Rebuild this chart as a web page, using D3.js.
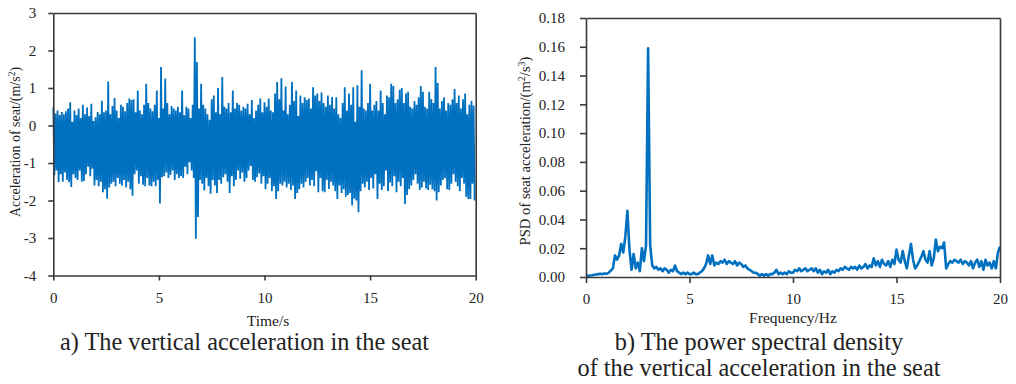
<!DOCTYPE html>
<html>
<head>
<meta charset="utf-8">
<script src="https://cdn.jsdelivr.net/npm/d3@7"></script>
<style>
  html, body { margin: 0; padding: 0; background: #fff; }
  svg { display: block; }
  text { font-family: "Liberation Serif", "Times New Roman", serif; fill: #222; }
</style>
</head>
<body>
<svg id="chart" width="1016" height="384"></svg>
<script>
// ---------------- DATA ----------------
// (a) seat vertical acceleration, m/s^2 : alternating local maxima / minima, 0.05 s apart
const sampleStep = 0.05;
const accelHigh = [
  0.49, 0.32, 0.40, 0.28, 0.36, 0.30, 0.38, 0.45, 0.62, 0.10,
  0.40, 0.28, 0.45, 0.20, 0.55, 0.30, 0.48, 0.25, 0.58, 0.12,
  0.22, 0.36, 0.30, 0.66, 0.35, 0.40, 1.17, 0.30, 0.52, 0.73,
  0.40, 0.20, 0.55, 0.50, 0.38, 0.60, 0.72, 0.68, 0.70, 0.35,
  0.93, 0.40, 0.30, 0.55, 1.11, 0.60, 0.45, 0.38, 0.55, 0.93,
  0.20, 1.56, 0.45, 1.25, 0.60, 0.30, 0.52, 0.45, 0.40, 0.50,
  0.35, 0.93, 0.27, 0.50, 0.45, 0.20, 0.55, 2.35, 1.69, 0.45,
  1.11, 0.55, 0.45, 0.30, 0.15, 0.70, 0.80, 0.35, 1.00, 0.30,
  1.29, 0.50, 0.45, 0.60, 0.35, 0.93, 0.45, 0.60, 0.55, 0.40,
  0.50, 0.45, 0.58, 0.30, 0.68, 0.20, 0.40, 0.55, 0.72, 0.35,
  0.62, 0.50, 0.72, 0.40, 0.35, 0.85, 1.16, 0.70, 1.26, 0.40,
  1.04, 0.30, 0.55, 1.16, 0.65, 0.93, 0.25, 0.80, 0.60, 0.75,
  0.68, 0.72, 0.45, 1.02, 0.80, 0.85, 0.65, 0.88, 0.60, 0.50,
  0.80, 0.55, 0.76, 0.45, 0.75, 0.30, 0.20, 0.60, 1.02, 0.40,
  0.85, 0.55, 1.02, 0.10, 1.07, 0.50, 1.47, 0.45, 0.40, 0.60,
  1.11, 0.40, 0.55, 0.65, 0.40, 0.93, 0.60, 0.30, 0.80, 0.75,
  1.11, 1.05, 0.60, 0.70, 0.95, 1.00, 0.60, 0.85, 0.90, 0.50,
  0.45, 0.65, 0.55, 0.75, 1.05, 0.90, 0.50, 0.45, 0.90, 0.70,
  0.60, 1.56, 1.13, 0.45, 0.65, 0.75, 0.40, 0.60, 0.55, 0.70,
  0.97, 0.60, 0.80, 0.45, 0.70, 0.85, 0.30, 0.55, 0.65, 0.53
];
const accelLow = [
  -1.33, -1.20, -1.51, -1.30, -1.50, -1.25, -1.45, -1.51, -1.64, -1.30,
  -1.40, -1.45, -1.20, -1.50, -1.48, -1.30, -1.10, -1.35, -1.15, -1.60,
  -1.45, -1.62, -1.50, -1.78, -1.70, -1.95, -1.65, -1.55, -1.50, -1.62,
  -1.40, -1.55, -1.60, -1.45, -1.65, -1.50, -1.70, -1.87, -1.30, -1.20,
  -1.55, -1.35, -1.58, -1.62, -1.40, -1.60, -1.62, -1.50, -1.62, -1.45,
  -2.08, -1.38, -1.35, -1.25, -1.40, -1.32, -1.20, -1.45, -1.30, -1.40,
  -1.35, -1.40, -1.10, -1.30, -0.98, -1.20, -1.40, -3.02, -2.44, -1.45,
  -1.55, -1.73, -1.40, -1.62, -1.82, -1.45, -1.60, -1.80, -1.45, -1.55,
  -1.38, -1.30, -1.50, -1.80, -1.35, -1.62, -1.45, -1.20, -1.42, -1.25,
  -1.50, -1.40, -1.20, -1.08, -1.45, -1.50, -1.38, -1.28, -1.55, -1.35,
  -1.70, -1.55, -1.40, -1.75, -1.62, -1.96, -1.75, -1.55, -1.60, -1.50,
  -1.65, -1.55, -1.72, -1.60, -1.96, -1.80, -1.70, -1.55, -1.65, -1.50,
  -1.40, -1.60, -1.45, -1.62, -1.22, -1.78, -1.40, -1.75, -1.78, -1.45,
  -1.69, -1.50, -1.60, -1.75, -1.96, -1.60, -1.80, -1.70, -1.90, -1.85,
  -1.80, -2.13, -1.95, -2.00, -2.31, -1.75, -1.55, -1.65, -1.50, -1.72,
  -1.40, -1.68, -1.30, -1.96, -1.55, -1.72, -1.62, -1.20, -1.75, -1.52,
  -1.62, -1.35, -1.78, -1.50, -1.62, -1.40, -2.09, -1.85, -1.70, -1.60,
  -1.45, -1.30, -1.55, -1.72, -1.65, -1.50, -1.68, -1.72, -1.58, -1.70,
  -1.75, -2.00, -1.78, -1.60, -1.45, -1.40, -1.70, -1.72, -1.55, -1.30,
  -1.50, -1.62, -1.75, -1.40, -1.55, -1.90, -1.96, -1.96, -1.55, -2.00
];

// (b) PSD of seat acceleration, (m^2/s^3), 0.1 Hz resolution, 0..20 Hz
const freqStep = 0.1;
const psdValues = [
  0.0005, 0.0008, 0.0010, 0.0012, 0.0015, 0.0018, 0.0020, 0.0022, 0.0020, 0.0025,
  0.0022, 0.0030, 0.0045, 0.0060, 0.0150, 0.0120, 0.0150, 0.0230, 0.0170, 0.0280,
  0.0460, 0.0190, 0.0050, 0.0160, 0.0060, 0.0100, 0.0040, 0.0200, 0.0110, 0.0220,
  0.1590, 0.0220, 0.0080, 0.0060, 0.0070, 0.0050, 0.0060, 0.0040, 0.0060, 0.0050,
  0.0030, 0.0050, 0.0040, 0.0080, 0.0040, 0.0030, 0.0020, 0.0030, 0.0020, 0.0030,
  0.0020, 0.0020, 0.0030, 0.0020, 0.0020, 0.0030, 0.0040, 0.0060, 0.0090, 0.0150,
  0.0090, 0.0150, 0.0080, 0.0100, 0.0090, 0.0110, 0.0100, 0.0120, 0.0090, 0.0110,
  0.0100, 0.0090, 0.0110, 0.0080, 0.0100, 0.0090, 0.0070, 0.0080, 0.0060, 0.0050,
  0.0040, 0.0030, 0.0030, 0.0020, 0.0010, 0.0020, 0.0010, 0.0020, 0.0010, 0.0020,
  0.0020, 0.0030, 0.0050, 0.0020, 0.0030, 0.0020, 0.0030, 0.0020, 0.0040, 0.0030,
  0.0030, 0.0050, 0.0040, 0.0060, 0.0040, 0.0050, 0.0060, 0.0040, 0.0050, 0.0060,
  0.0040, 0.0060, 0.0030, 0.0050, 0.0020, 0.0040, 0.0030, 0.0050, 0.0020, 0.0040,
  0.0030, 0.0050, 0.0040, 0.0060, 0.0050, 0.0070, 0.0060, 0.0050, 0.0070, 0.0060,
  0.0070, 0.0050, 0.0080, 0.0060, 0.0070, 0.0090, 0.0060, 0.0080, 0.0070, 0.0130,
  0.0080, 0.0110, 0.0070, 0.0120, 0.0090, 0.0080, 0.0110, 0.0070, 0.0120, 0.0090,
  0.0190, 0.0120, 0.0100, 0.0180, 0.0110, 0.0060, 0.0150, 0.0230, 0.0120, 0.0060,
  0.0080, 0.0110, 0.0140, 0.0180, 0.0120, 0.0100, 0.0180, 0.0080, 0.0130, 0.0260,
  0.0180, 0.0210, 0.0200, 0.0240, 0.0060, 0.0090, 0.0110, 0.0100, 0.0120, 0.0110,
  0.0100, 0.0120, 0.0090, 0.0110, 0.0100, 0.0080, 0.0110, 0.0060, 0.0100, 0.0120,
  0.0070, 0.0110, 0.0050, 0.0120, 0.0080, 0.0100, 0.0060, 0.0110, 0.0060, 0.0170,
  0.0210
];

const timeTicks = [0, 5, 10, 15, 20];
const accelTicks = [-4, -3, -2, -1, 0, 1, 2, 3];
const freqTicks = [0, 5, 10, 15, 20];
const psdTicks = [0, 0.02, 0.04, 0.06, 0.08, 0.10, 0.12, 0.14, 0.16, 0.18];

const captionA = "a) The vertical acceleration in the seat";
const captionB = ["b) The power spectral density", "of the vertical acceleration in the seat"];

// ---------------- DRAW ----------------
const svg = d3.select("#chart");
svg.append("rect").attr("width", 1016).attr("height", 384).attr("fill", "#fff");

const lineColor = "#0070C0";
const axisColor = "#3a3a3a";
const fontFam = '"Liberation Serif", "Times New Roman", serif';

function styleAxis(g, fs) {
  g.attr("font-family", fontFam).attr("font-size", fs);
  g.selectAll("path.domain").attr("stroke", axisColor).attr("stroke-width", 1.6);
  g.selectAll(".tick line").attr("stroke", axisColor).attr("stroke-width", 1.6);
  g.selectAll(".tick text").attr("fill", "#222");
}

// ---- Chart a ----
const xA = d3.scaleLinear().domain([0, 20]).range([53.3, 475.7]);
const yA = d3.scaleLinear().domain([-4, 3]).range([275.5, 13]);

const accelSeries = [];
accelHigh.forEach((h, i) => {
  accelSeries.push({ t: (2 * i) * sampleStep, v: h });
  accelSeries.push({ t: (2 * i + 1) * sampleStep, v: accelLow[i] });
});

svg.append("path")
  .datum(accelSeries)
  .attr("fill", "none")
  .attr("stroke", lineColor)
  .attr("stroke-width", 1.8)
  .attr("stroke-linejoin", "miter")
  .attr("d", d3.line().x(d => xA(d.t)).y(d => yA(d.v)));

// frame top / right
svg.append("g").attr("transform", `translate(0,${yA(3)})`)
  .call(d3.axisTop(xA).tickValues([]).tickSizeOuter(0)).call(g => styleAxis(g, 15));
svg.append("g").attr("transform", `translate(${xA(20)},0)`)
  .call(d3.axisRight(yA).tickValues([]).tickSizeOuter(0)).call(g => styleAxis(g, 15));

const gxA = svg.append("g").attr("transform", `translate(0,${yA(-4)})`)
  .call(d3.axisBottom(xA).tickValues(timeTicks).tickSize(5).tickSizeOuter(0).tickPadding(12).tickFormat(d3.format("d")));
styleAxis(gxA, 15);
const gyA = svg.append("g").attr("transform", `translate(${xA(0)},0)`)
  .call(d3.axisLeft(yA).tickValues(accelTicks).tickSize(5).tickSizeOuter(0).tickPadding(12).tickFormat(d => d < 0 ? "-" + Math.abs(d) : String(d)));
styleAxis(gyA, 15);

svg.append("text").attr("x", 268).attr("y", 326).attr("text-anchor", "middle")
  .attr("font-size", 15.5).text("Time/s");

const ylabA = svg.append("text")
  .attr("transform", "translate(20,142) rotate(-90)")
  .attr("text-anchor", "middle").attr("font-size", 14);
ylabA.append("tspan").text("Acceleration of seat/(m/s");
ylabA.append("tspan").attr("baseline-shift", "super").attr("font-size", 9.5).text("2");
ylabA.append("tspan").text(")");

svg.append("text").attr("x", 244.5).attr("y", 350).attr("text-anchor", "middle")
  .attr("font-size", 24.3).attr("fill", "#111").text(captionA);

// ---- Chart b ----
const xB = d3.scaleLinear().domain([0, 20]).range([586, 1000]);
const yB = d3.scaleLinear().domain([0, 0.18]).range([277, 18]);

svg.append("path")
  .datum(psdValues)
  .attr("fill", "none")
  .attr("stroke", lineColor)
  .attr("stroke-width", 2.6)
  .attr("stroke-linejoin", "round")
  .attr("d", d3.line().x((d, i) => xB(i * freqStep)).y(d => yB(d)));

svg.append("g").attr("transform", `translate(0,${yB(0.18)})`)
  .call(d3.axisTop(xB).tickValues([]).tickSizeOuter(0)).call(g => styleAxis(g, 15));
svg.append("g").attr("transform", `translate(${xB(20)},0)`)
  .call(d3.axisRight(yB).tickValues([]).tickSizeOuter(0)).call(g => styleAxis(g, 15));

const gxB = svg.append("g").attr("transform", `translate(0,${yB(0)})`)
  .call(d3.axisBottom(xB).tickValues(freqTicks).tickSize(6).tickSizeOuter(0).tickPadding(10).tickFormat(d3.format("d")));
styleAxis(gxB, 15);
const gyB = svg.append("g").attr("transform", `translate(${xB(0)},0)`)
  .call(d3.axisLeft(yB).tickValues(psdTicks).tickSize(6).tickSizeOuter(0).tickPadding(15).tickFormat(d3.format(".2f")));
styleAxis(gyB, 15);

svg.append("text").attr("x", 793).attr("y", 322.5).attr("text-anchor", "middle")
  .attr("font-size", 15.5).text("Frequency/Hz");

const ylabB = svg.append("text")
  .attr("transform", "translate(530,151) rotate(-90)")
  .attr("text-anchor", "middle").attr("font-size", 14.7);
ylabB.append("tspan").text("PSD of seat acceleration/(m");
ylabB.append("tspan").attr("baseline-shift", "super").attr("font-size", 10).text("2");
ylabB.append("tspan").text("/s");
ylabB.append("tspan").attr("baseline-shift", "super").attr("font-size", 10).text("3");
ylabB.append("tspan").text(")");

const capB = svg.append("text").attr("text-anchor", "middle").attr("font-size", 24.3).attr("fill", "#111");
captionB.forEach((line, i) => {
  capB.append("tspan").attr("x", 759).attr("y", 350 + i * 25.5).text(line);
});
</script>
</body>
</html>
